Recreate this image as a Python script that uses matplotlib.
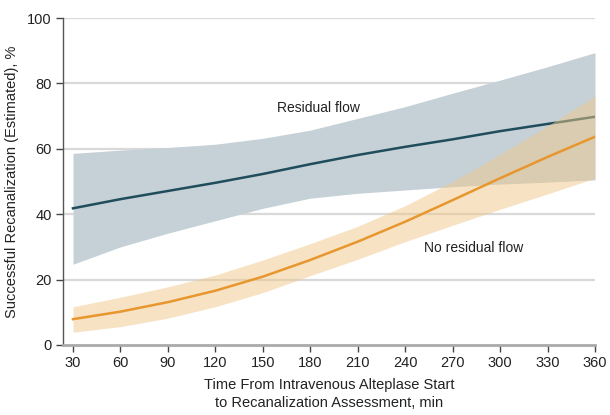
import numpy as np
import matplotlib.pyplot as plt

plt.rcParams['font.family'] = ['Liberation Sans', 'DejaVu Sans']

# tiempos (min)
tiempo = [30, 60, 90, 120, 150, 180, 210, 240, 270, 300, 330, 360]

# flujo residual
residual = [41.8, 44.6, 47.1, 49.6, 52.3, 55.3, 58.1, 60.6, 62.9, 65.4, 67.6, 69.8]
residual_sup = [58.6, 59.6, 60.4, 61.4, 63.2, 65.7, 69.3, 72.9, 77.0, 81.0, 85.1, 89.4]
residual_inf = [24.7, 30.0, 34.2, 38.0, 41.8, 44.9, 46.4, 47.4, 48.4, 49.2, 49.8, 50.5]

# sin flujo residual
sin_residual = [7.9, 10.2, 13.1, 16.6, 20.9, 26.0, 31.6, 37.7, 44.3, 51.0, 57.5, 63.7]
sin_residual_sup = [11.7, 14.6, 17.8, 21.4, 26.0, 31.0, 36.3, 42.6, 50.0, 58.3, 67.0, 76.1]
sin_residual_inf = [3.9, 5.6, 8.2, 11.7, 16.0, 21.2, 26.2, 31.6, 36.6, 41.5, 46.2, 51.0]

xticks = tiempo
yticks = [0, 20, 40, 60, 80, 100]

fig = plt.figure(figsize=(6.1, 4.15), dpi=100)
ax = fig.add_axes([0.1033, 0.1687, 0.8721, 0.7879])

for y in yticks[1:]:
    ax.axhline(y, color='#d9d9d9', lw=1.6, zorder=0)

ax.fill_between(tiempo, residual_inf, residual_sup, color='#c5d0d7', lw=0, zorder=1)
ax.plot(tiempo, residual, color='#1f4d5c', lw=1.8, zorder=2)
ax.fill_between(tiempo, sin_residual_inf, sin_residual_sup, color='#f0c98a', alpha=0.5, lw=0, zorder=3)
ax.plot(tiempo, sin_residual, color='#e8962e', lw=1.8, zorder=4)

ax.text(185, 72.5, 'Residual flow', fontsize=10, color='#222222', ha='center', va='center')
ax.text(283, 29.7, 'No residual flow', fontsize=10, color='#222222', ha='center', va='center')

ax.set_xlim(23.7, 360)
ax.set_ylim(0, 100)
ax.set_xticks(xticks)
ax.set_yticks(yticks)
ax.tick_params(axis='both', direction='out', length=5, width=1, color='#444444',
               labelsize=10.5, labelcolor='#222222', pad=3)

for side in ['top', 'right']:
    ax.spines[side].set_visible(False)
ax.spines['left'].set_color('#555555')
ax.spines['left'].set_linewidth(1)
ax.spines['bottom'].set_color('#aaaaaa')
ax.spines['bottom'].set_linewidth(2)

ax.set_xlabel('Time From Intravenous Alteplase Start\nto Recanalization Assessment, min',
              fontsize=10.5, color='#222222', linespacing=1.35, labelpad=6)
ax.set_ylabel('Successful Recanalization (Estimated), %', fontsize=10.5, color='#222222',
              labelpad=6)

fig.savefig('out.png', dpi=100)
